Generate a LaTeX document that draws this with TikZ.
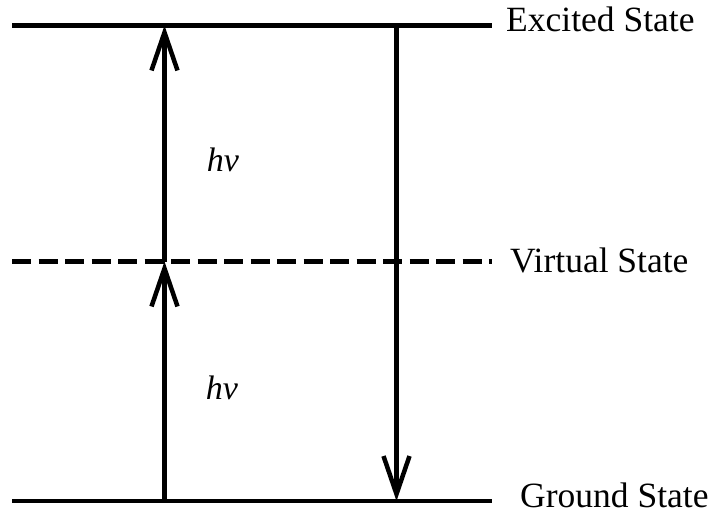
\documentclass[tikz,border=0pt]{standalone}
\usepackage{fontspec}
\setmainfont{Liberation Serif}
\usetikzlibrary{arrows.meta}

\tikzset{
  level/.style={line width=4.5bp},
  photon/.style={line width=4.5bp, -{Straight Barb[length=38bp, width=26bp, line width=4.5bp]}},
  statelabel/.style={anchor=base west, inner sep=0pt, font=\fontsize{35.5bp}{40bp}\selectfont},
  energylabel/.style={inner sep=0pt, font=\fontsize{34bp}{40bp}\selectfont\itshape}
}

\begin{document}
\begin{tikzpicture}[x=1bp, y=-1bp]
\useasboundingbox (0,0) rectangle (713,515);

% Nodes

\coordinate (E1) at (12,25.5);
\coordinate (E2) at (492,25.5);
\coordinate (V1) at (12,261.5);
\coordinate (V2) at (492,261.5);
\coordinate (G1) at (12,501);
\coordinate (G2) at (492,501);

\coordinate (UpA) at (164.5,501);
\coordinate (UpB) at (164.5,261.5);
\coordinate (UpC) at (164.5,25.5);
\coordinate (DnA) at (396.5,25.5);
\coordinate (DnB) at (396.5,501);

% Levels
\draw[level] (E1) -- (E2);
\draw[level, dash pattern=on 19bp off 7.5bp] (V1) -- (V2);
\draw[level] (G1) -- (G2);

% Transitions
\draw[photon] (UpA) -- (UpB);
\draw[photon] (UpB) -- (UpC);
\draw[photon] (DnA) -- (DnB);

% Labels
\node[statelabel] (excited) at (506,32) {Excited State};
\node[statelabel] (virtual) at (510,273) {Virtual State};
\node[statelabel] (ground) at (520,507) {Ground State};

\node[energylabel] (hv1) at (223,160) {hv};
\node[energylabel] (hv2) at (222,388) {hv};

\end{tikzpicture}
\end{document}
